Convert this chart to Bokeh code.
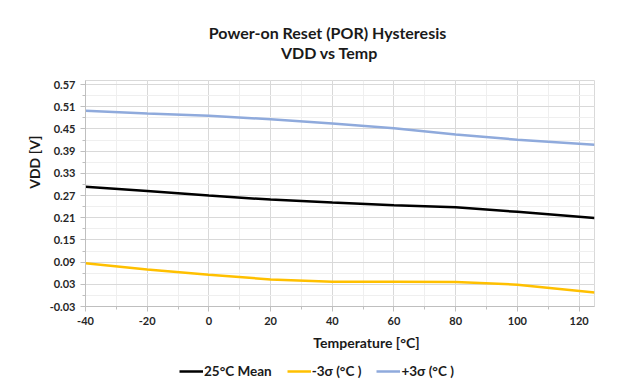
from bokeh.plotting import figure
from bokeh.layouts import column
from bokeh.models import Range1d, FixedTicker, Legend, LegendItem, Title, CustomJSTickFormatter
from bokeh.core.properties import value
from bokeh.embed import file_html
from bokeh.resources import INLINE

temps = [-40, -20, 0, 20, 40, 60, 80, 100, 125]
mean25 = [0.294, 0.282, 0.270, 0.259, 0.251, 0.244, 0.238, 0.226, 0.209]
minus3s = [0.087, 0.070, 0.056, 0.043, 0.037, 0.037, 0.036, 0.029, 0.008]
plus3s = [0.499, 0.492, 0.486, 0.476, 0.465, 0.452, 0.435, 0.421, 0.407]

y_ticks = [-0.03, 0.03, 0.09, 0.15, 0.21, 0.27, 0.33, 0.39, 0.45, 0.51, 0.57]
x_ticks = [-40, -20, 0, 20, 40, 60, 80, 100, 120]

title_lines = ["Power-on Reset (POR)  Hysteresis", "VDD vs Temp"]
x_label = "Temperature [°C]"
y_label = "VDD [V]"
series_names = ["25°C Mean", "-3σ (°C )", "+3σ (°C )"]
series_colors = ["black", "#ffc000", "#8faadc"]

FONT = "Lato"
W = 620
LEFT, RIGHT = 85, 26
TXT = "#1a1a1a"


def strip(height):
    f = figure(width=W, height=height, output_backend="svg", toolbar_location=None,
               x_range=Range1d(LEFT, W - RIGHT), y_range=Range1d(height, 0),
               x_axis_type=None, y_axis_type=None,
               min_border_left=LEFT, min_border_right=RIGHT, min_border_top=0, min_border_bottom=0)
    f.outline_line_color = None
    f.xgrid.visible = False
    f.ygrid.visible = False
    return f


# ---- header with the two title lines (page pixel coordinates)
head = strip(70)
head.text(x=[329, 329], y=[32, 52], text=title_lines, text_font=value(FONT),
          text_font_style="bold", text_font_size="16px", text_align="center",
          text_baseline="middle", text_color=TXT)

# ---- main chart
p = figure(width=W, height=260, output_backend="svg", toolbar_location=None,
           x_range=Range1d(-40, 125), y_range=Range1d(-0.03, 0.581),
           min_border_left=LEFT, min_border_right=RIGHT, min_border_top=10, min_border_bottom=24)

p.outline_line_color = "#d9d9d9"
p.xaxis.ticker = FixedTicker(ticks=x_ticks, minor_ticks=list(range(-40, 130, 10)))
p.yaxis.ticker = FixedTicker(ticks=y_ticks, minor_ticks=[round(-0.03 + 0.03 * i, 2) for i in range(21)])
p.yaxis.formatter = CustomJSTickFormatter(code="return tick.toFixed(2);")
p.xaxis.formatter = CustomJSTickFormatter(code="return tick.toFixed(0);")

p.xgrid.grid_line_color = "#d9d9d9"
p.ygrid.grid_line_color = "#d9d9d9"
p.xgrid.minor_grid_line_color = "#efefef"
p.ygrid.minor_grid_line_color = "#efefef"

for ax in (p.xaxis, p.yaxis):
    ax.axis_line_color = "#bfbfbf"
    ax.major_tick_line_color = "#bfbfbf"
    ax.minor_tick_line_color = "#bfbfbf"
    ax.major_label_text_font = FONT
    ax.major_label_text_font_style = "bold"
    ax.major_label_text_font_size = "11px"
    ax.major_label_text_color = "#262626"
    ax.major_tick_in = 0
    ax.major_tick_out = 5
    ax.minor_tick_in = 0
    ax.minor_tick_out = 3
    ax.major_label_standoff = 5

p.add_layout(Title(text=y_label, text_font=FONT, text_font_style="bold", text_font_size="14px",
                   text_color=TXT, align="right", offset=55, standoff=8), "left")

for vals, col in zip([mean25, minus3s, plus3s], series_colors):
    p.line(temps, vals, line_color=col, line_width=2.5)

# ---- bottom strip: x axis title and legend
bot = strip(56)
bot.text(x=[366], y=[12], text=[x_label], text_font=value(FONT), text_font_style="bold",
         text_font_size="14px", text_align="center", text_baseline="middle", text_color=TXT)
items = []
for name, col in zip(series_names, series_colors):
    r = bot.line(x=[0, 1], y=[-100, -100], line_color=col, line_width=2.5)
    items.append(LegendItem(label=name, renderers=[r]))
legend = Legend(items=items, orientation="horizontal", location=(94, 7),
                border_line_color=None, background_fill_alpha=0,
                label_text_font=FONT, label_text_font_style="bold",
                label_text_font_size="13.5px", label_text_color=TXT,
                glyph_width=24, glyph_height=16, label_height=16,
                label_standoff=1, spacing=15, padding=0, margin=0)
bot.add_layout(legend, "center")

layout = column(head, p, bot, spacing=0)
open("out.html", "w").write(file_html(layout, INLINE))
